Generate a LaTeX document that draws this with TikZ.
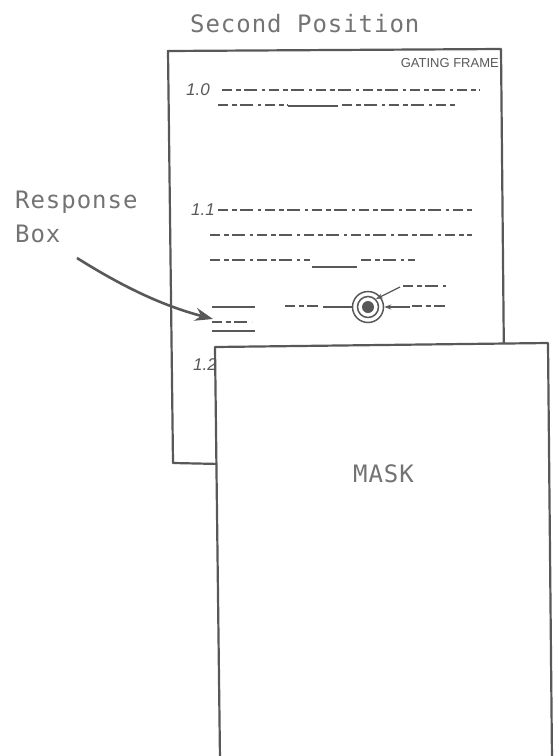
\documentclass[tikz,border=0pt]{standalone}
\usepackage{fontspec}
\newfontfamily\typefont[LetterSpace=4]{DejaVu Sans Mono}
\newfontfamily\handfont{Liberation Sans}
\usetikzlibrary{arrows.meta}
\definecolor{InkGray}{RGB}{88,88,88}
\definecolor{TypeGray}{RGB}{115,115,115}
\tikzset{
  sheet/.style={draw=InkGray,line width=2.2pt,line join=round},
  typed/.style={text=TypeGray,font=\typefont\fontsize{24}{28}\selectfont,inner sep=0pt,anchor=base west},
  hand/.style={text=InkGray,font=\handfont\itshape\fontsize{17}{19}\selectfont,inner sep=0pt,anchor=base west},
  scrib/.style={draw=InkGray,line width=1.8pt,dash pattern=on 10pt off 4pt on 5pt off 3pt on 13pt off 5pt on 3pt off 4pt},
  blank/.style={draw=InkGray,line width=1.2pt},
  lead/.style={draw=InkGray,line width=1.2pt,-{Stealth[length=7pt,width=5pt]}},
}
\begin{document}
\begin{tikzpicture}[x=1pt,y=-1pt]
\useasboundingbox (0,0) rectangle (559,756);
% gating frame, lying under the mask
\draw[sheet] (168,51) -- (501,49) -- (505,470) -- (173,463) -- cycle;
\node[hand,font=\handfont\fontsize{13}{15}\selectfont,anchor=base east] (gate) at (499,67) {GATING FRAME};
\node[hand] (n10) at (186,95) {1.0};
\draw[scrib] (222,90) -- (480,90);
\draw[scrib] (218,105) -- (288,105);
\draw[blank] (288,106) -- (338,106);
\draw[scrib] (342,105) -- (457,105);
\node[hand] (n11) at (191,215) {1.1};
\draw[scrib] (218,210) -- (472,210);
\draw[scrib] (210,235) -- (472,235);
\draw[scrib] (210,260) -- (310,260);
\draw[blank] (312,267) -- (357,267);
\draw[scrib] (361,260) -- (415,260);
% response row
\draw[blank] (212,307) -- (255,307);
\draw[scrib] (212,322) -- (252,322);
\draw[blank] (212,331) -- (255,331);
\draw[scrib] (285,306) -- (318,306);
\node[circle,draw=InkGray,line width=1.5pt,minimum size=31pt,inner sep=0pt] (tgt) at (368,307) {};
\node[circle,draw=InkGray,line width=1.5pt,minimum size=21pt,inner sep=0pt] (ring) at (tgt) {};
\node[circle,fill=InkGray,minimum size=12pt,inner sep=0pt] (dot) at (tgt) {};
\coordinate (ulab) at (323,307);
\draw[blank] (ulab) -- (tgt.west);
\draw[scrib] (412,306) -- (445,306);
\coordinate (rlab) at (410,307);
\draw[lead] (rlab) -- (tgt.east);
\draw[scrib] (403,286) -- (447,286);
\coordinate (tlab) at (400,287);
\draw[lead] (tlab) -- (ring.north east);
\node[hand] (n12) at (193,370) {1.2};
% mask over the frame
\fill[white] (215,347) -- (548,343) -- (552,760) -- (220,760) -- cycle;
\draw[sheet] (220,760) -- (215,347) -- (548,343) -- (552,760);
\node[typed] (mask) at (353,482) {MASK};
% labels
\node[typed] (title) at (190,32) {Second Position};
\node[typed] (resp) at (15,208) {Response};
\node[typed] (box) at (15,242) {Box};
\coordinate (rtail) at (77,258);
\coordinate (rhead) at (213,319);
\draw[draw=InkGray,line width=2.6pt,-{Stealth[length=18pt,width=13pt]}] (rtail) .. controls (120,285) and (160,305) .. (rhead);
\end{tikzpicture}
\end{document}
